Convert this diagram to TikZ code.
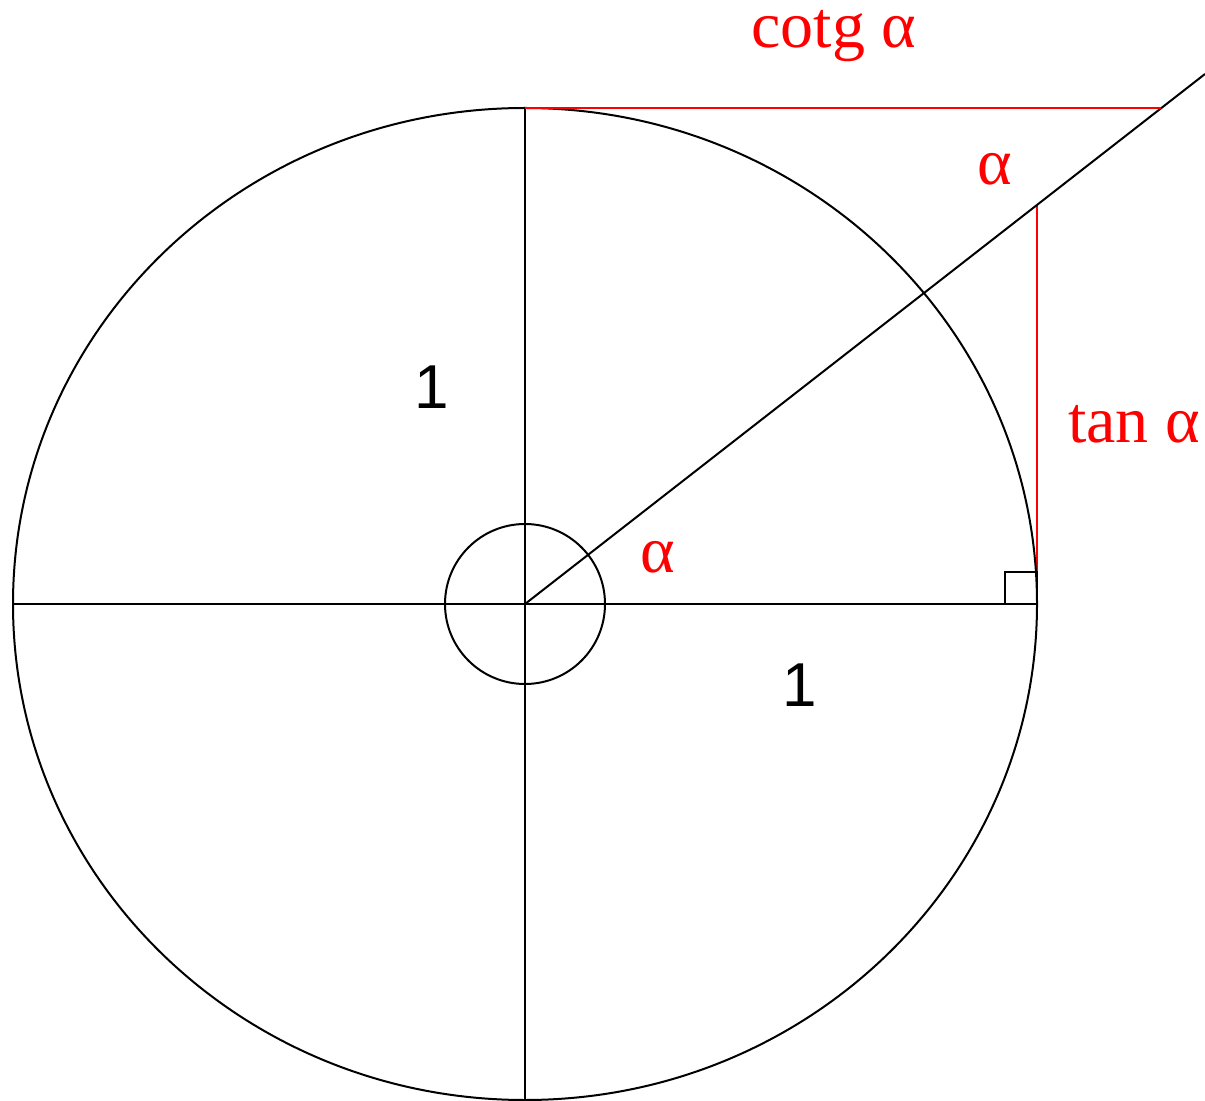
\documentclass[tikz,border=0pt]{standalone}
\usepackage{fontspec}
\setmainfont{Liberation Serif}
\newfontfamily\digitfont{Liberation Sans}
\usetikzlibrary{calc}

\begin{document}
\begin{tikzpicture}[x=0.5pt,y=-0.5pt,
  geo/.style={line width=1pt,black},
  seg/.style={line width=1pt,red},
  redlbl/.style={text=red,font=\fontsize{33}{40}\selectfont,anchor=base,inner sep=0pt},
  onelbl/.style={font=\digitfont\fontsize{31}{37}\selectfont,anchor=base,inner sep=0pt}
]
\useasboundingbox (0,0) rectangle (1205,1101);
% points of the figure
\coordinate (O) at (525,604);
\coordinate (top) at (525,108);
\coordinate (bot) at (525,1100);
\coordinate (left) at (13,604);
\coordinate (right) at (1037,604);
\coordinate (T) at (1037,205);
\coordinate (C) at (1161,108);
\coordinate (ray) at (1205,74);
\coordinate (sq) at (1005,572);
\coordinate (sqtop) at (1037,572);
% tangent segments
\draw[seg] (T) -- (sqtop);
% circle, axes and ray
\draw[geo] (O) ellipse [x radius=512, y radius=496];
\draw[geo] (O) circle [radius=80];
\draw[geo] (left) -- (right);
\draw[geo] (top) -- (bot);
\draw[geo] (O) -- (ray);
\draw[geo] (sq) rectangle (right);
\draw[seg] (top) -- (C);
% labels
\node[redlbl] (cotg) at (834,48) {cotg α};
\node[redlbl] (a1) at (995,185) {α};
\node[redlbl] (tan) at (1134,443) {tan α};
\node[redlbl] (a2) at (658,573) {α};
\node[onelbl] (r1) at (432,409) {1};
\node[onelbl] (r2) at (800,706) {1};
\end{tikzpicture}
\end{document}
